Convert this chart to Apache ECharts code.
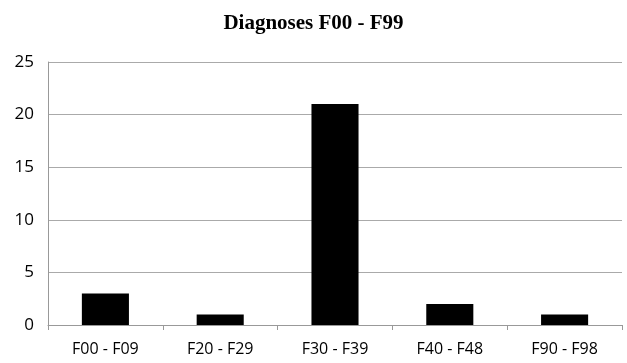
<!DOCTYPE html>
<html><head><meta charset="utf-8">
<script src="https://cdn.jsdelivr.net/npm/echarts@6/dist/echarts.min.js"></script>
<style>html,body{margin:0;padding:0;background:#fff}#c{width:627px;height:363px}</style>
</head><body><div id="c"></div>
<script>
const categories = ['F00 - F09', 'F20 - F29', 'F30 - F39', 'F40 - F48', 'F90 - F98'];
const values = [3, 1, 21, 2, 1];
const titleText = 'Diagnoses F00 - F99';

const chart = echarts.init(document.getElementById('c'));
chart.setOption({
  animation: false,
  title: {
    text: titleText, left: 'center', top: 8,
    textStyle: { fontFamily: 'Liberation Serif', fontWeight: 'bold', fontSize: 21, color: '#000' }
  },
  grid: { left: 48, right: 5, top: 62, bottom: 38 },
  xAxis: {
    type: 'category', data: categories,
    axisLine: { lineStyle: { color: '#999', width: 1 } },
    axisTick: { show: true, alignWithLabel: false, length: 5, lineStyle: { color: '#999' } },
    axisLabel: { color: '#000', fontFamily: 'Open Sans', fontSize: 16, margin: 16 }
  },
  yAxis: {
    type: 'value', min: 0, max: 25, interval: 5,
    axisLine: { show: true, lineStyle: { color: '#999' } },
    axisTick: { show: false },
    splitLine: { lineStyle: { color: '#aaa', width: 1 } },
    axisLabel: { color: '#000', fontFamily: 'Open Sans', fontSize: 17, margin: 14 }
  },
  series: [{
    type: 'bar', data: values, barWidth: '41%',
    itemStyle: { color: '#000' }
  }]
});
</script></body></html>
